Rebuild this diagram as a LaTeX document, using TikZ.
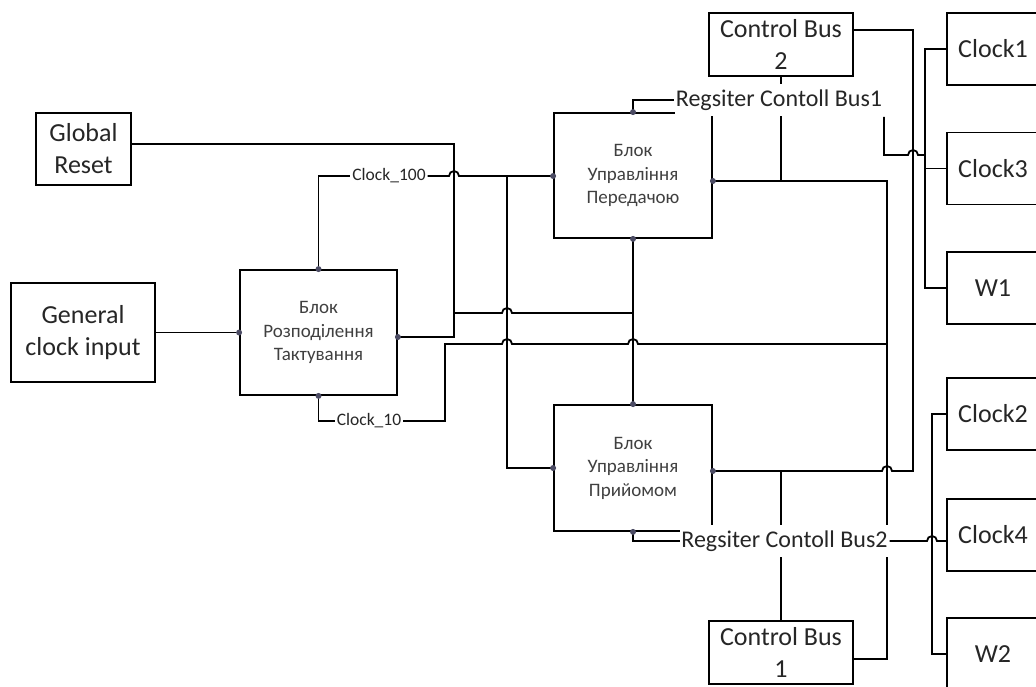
\documentclass[tikz,border=0pt]{standalone}
\usepackage{fontspec}
\setmainfont{Carlito}
\usetikzlibrary{calc,backgrounds}
\definecolor{portdot}{HTML}{4B4B63}

\begin{document}
\begin{tikzpicture}[x=1pt,y=-1pt,line width=1.8pt,
  unit/.style={draw,inner sep=0pt,align=center,text=black!85,
    font=\fontsize{26}{32}\selectfont},
  block/.style={draw,inner sep=0pt,align=center,text=black!75,
    minimum width=158pt,minimum height=125pt,font=\fontsize{19}{23.5}\selectfont},
  sig/.style={fill=white,inner sep=1pt,text=black!85,font=\fontsize{17.5}{20}\selectfont},
  bus/.style={fill=white,inner xsep=1pt,inner ysep=5.5pt,text=black!85,
    font=\fontsize{24}{30}\selectfont},
  wire/.style={draw,line width=1.8pt},
  hop/.style={insert path={-- ($(#1)+(-5,0)$) arc[start angle=180,end angle=0,radius=5pt]}}]

  \useasboundingbox (0,0) rectangle (1036,687);
  \clip (0,0) rectangle (1036,687);

  % inputs and clock block
  \node[unit,minimum width=95pt,minimum height=72pt] (gr) at (83.5,149) {Global\\Reset};
  \node[unit,minimum width=144pt,minimum height=99pt] (gci) at (83,332.5) {General\\clock input};
  \node[block,minimum width=157pt] (rozp) at (318.5,332.5) {Блок\\Розподілення\\Тактування};

  % transmit / receive control
  \node[block] (tx) at (633,175.5) {Блок\\Управління\\Передачою};
  \node[block,minimum height=126pt] (rx) at (633,468) {Блок\\Управління\\Прийомом};

  \node[unit,minimum width=144pt,minimum height=63pt] (cb2) at (781,44.5) {Control Bus\\2};
  \node[unit,minimum width=144pt,minimum height=63pt] (cb1) at (781,652.5) {Control Bus\\1};

  % outputs on the right
  \foreach \name/\txt/\y in {clk1/Clock1/49,clk3/Clock3/168.5,w1/W1/288,
                              clk2/Clock2/414,clk4/Clock4/535,w2/W2/654}
    \node[unit,minimum width=92pt,minimum height=72pt] (\name) at (993,\y) {\txt};

  % signal names
  \node[sig] (c100) at (389,176) {Clock\_100};
  \node[sig] (c10) at (369,421) {Clock\_10};
  \node[bus] (bus1) at (779,100) {Regsiter Contoll Bus1};
  \node[bus] (bus2) at (784.5,541) {Regsiter Contoll Bus2};

  % ports
  \coordinate (rozpW) at (rozp.west);
  \coordinate (rozpE) at ([yshift=-4.5pt]rozp.east);
  \coordinate (rozpN) at (rozp.north);
  \coordinate (rozpS) at (rozp.south);
  \coordinate (txW) at ([yshift=-0.5pt]tx.west);
  \coordinate (txE) at ([yshift=-5.5pt]tx.east);
  \coordinate (txN) at (tx.north);
  \coordinate (txS) at (tx.south);
  \coordinate (rxW) at (rx.west);
  \coordinate (rxE) at ([yshift=-3pt]rx.east);
  \coordinate (rxN) at (rx.north);
  \coordinate (rxS) at (rx.south);

  % wire junctions
  \coordinate (grj) at (454,313);
  \coordinate (c100j) at (507,176);
  \coordinate (c10j) at (445,344);
  \coordinate (rvt) at (887,181);
  \coordinate (cb2r) at (913,30);
  \coordinate (cbt) at (925,155);
  \coordinate (cbb) at (932,541);

  \begin{pgfonlayer}{background}
    \fill[white] (0,0) rectangle (1036,687);
    \path[wire] (gci.east) -- (rozpW);
    % Clock_100
    \path[wire] (rozpN) |- (c100.west);
    \path[wire] (c100.east) [hop={grj |- c100.east}] -- (txW);
    \path[wire] (c100j) |- (rxW);
    % reset
    \path[wire] ([yshift=5pt]gr.east) -| (grj) |- (rozpE);
    \path[wire] (grj) [hop={c100j |- grj}] -- (txS |- grj);
    \path[wire] (txS) -- (rxN);
    % Clock_10
    \path[wire] (rozpS) |- (c10.west);
    \path[wire] (c10.east) -| (c10j) [hop={c100j |- c10j}] [hop={txS |- c10j}] -- (rvt |- c10j);
    \path[wire] (txE) -- (rvt) |- ([yshift=-6.5pt]cb1.east);
    % control buses
    \path[wire] (cb2.south) -- (cb2.south |- txE);
    \path[wire] (txN) |- (bus1.west);
    \path[wire] (bus1.south east) -- (bus1.south east |- cbt) [hop={cb2r |- cbt}] -- (cbt);
    \path[wire] (rxE) [hop={rvt |- rxE}] -| (cb2r) -- ([yshift=14.5pt]cb2.east);
    \path[wire] (cb1.north) -- (cb1.north |- rxE);
    \path[wire] (rxS) |- (bus2.west);
    \path[wire] (bus2.east) [hop=cbb] -- (clk4.west |- cbb);
    % clock lines
    \path[wire] (clk1.west) -| (cbt) |- (w1.west);
    \path[wire] (clk3.west) -- (cbt |- clk3.west);
    \path[wire] (clk2.west) -| (cbb) |- (w2.west);
  \end{pgfonlayer}

  \foreach \p in {rozpW,rozpE,rozpN,rozpS,txW,txE,txN,txS,rxW,rxE,rxN,rxS}
    \fill[portdot] (\p) circle (3pt);

\end{tikzpicture}
\end{document}
